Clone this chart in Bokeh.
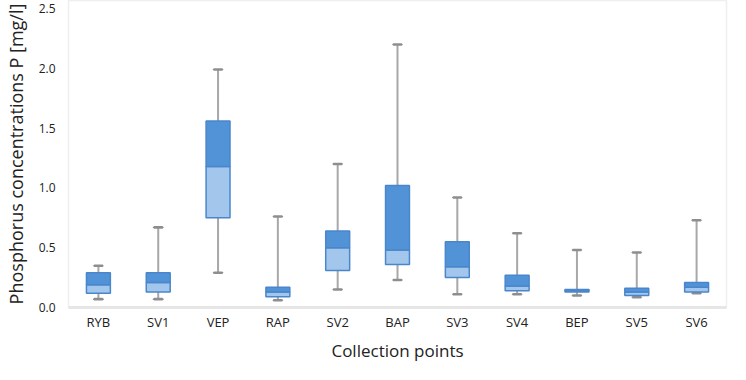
from bokeh.plotting import figure
from bokeh.models import ColumnDataSource, FixedTicker, NumeralTickFormatter
from bokeh.embed import file_html
from bokeh.resources import INLINE

points = ["RYB", "SV1", "VEP", "RAP", "SV2", "BAP", "SV3", "SV4", "BEP", "SV5", "SV6"]
minimum = [0.07, 0.07, 0.29, 0.06, 0.15, 0.23, 0.11, 0.11, 0.10, 0.085, 0.12]
q1 = [0.12, 0.13, 0.75, 0.09, 0.31, 0.36, 0.25, 0.14, 0.13, 0.10, 0.13]
median = [0.19, 0.21, 1.18, 0.13, 0.50, 0.48, 0.34, 0.18, 0.14, 0.13, 0.17]
q3 = [0.29, 0.29, 1.56, 0.17, 0.64, 1.02, 0.55, 0.27, 0.15, 0.16, 0.21]
maximum = [0.35, 0.67, 1.99, 0.76, 1.20, 2.20, 0.92, 0.62, 0.48, 0.46, 0.73]
y_ticks = [0.0, 0.5, 1.0, 1.5, 2.0, 2.5]

src = ColumnDataSource(dict(points=points, minimum=minimum, q1=q1, median=median,
                            q3=q3, maximum=maximum))

p = figure(width=730, height=364, x_range=points, y_range=(0, 2.567),
           output_backend="svg", toolbar_location=None,
           min_border_left=65, min_border_right=4, min_border_top=0, min_border_bottom=40)

p.segment(x0="points", y0="minimum", x1="points", y1="maximum", source=src,
          line_color="#a8a8a8", line_width=2)
p.rect(x="points", y="maximum", width=0.14, height=0.0001, height_units="data", source=src,
       line_color="#8e8e8e", line_width=2.5, fill_color=None)
p.rect(x="points", y="minimum", width=0.14, height=0.0001, height_units="data", source=src,
       line_color="#8e8e8e", line_width=2.5, fill_color=None)
p.vbar(x="points", bottom="q1", top="median", width=0.4, source=src,
       fill_color="#a3c7ec", line_color="#4a86cc", line_width=1.5)
p.vbar(x="points", bottom="median", top="q3", width=0.4, source=src,
       fill_color="#5193d6", line_color="#4a86cc", line_width=1.5)

p.xgrid.grid_line_color = None
p.ygrid.grid_line_color = None
p.outline_line_color = "#efefef"
p.outline_line_width = 1.5

p.yaxis.ticker = FixedTicker(ticks=y_ticks)
p.yaxis.formatter = NumeralTickFormatter(format="0.0")
p.yaxis.axis_line_color = None
p.yaxis.major_tick_line_color = None
p.yaxis.minor_tick_line_color = None
p.yaxis.major_tick_out = 0
p.yaxis.minor_tick_out = 0
p.yaxis.major_label_standoff = 13
p.yaxis.axis_label = "Phosphorus concentrations P [mg/l]"
p.yaxis.axis_label_standoff = 8

p.xaxis.axis_line_color = "#e6e6e6"
p.xaxis.axis_line_width = 3
p.xaxis.major_tick_line_color = None
p.xaxis.minor_tick_line_color = None
p.xaxis.major_tick_out = 0
p.xaxis.minor_tick_out = 0
p.xaxis.major_label_standoff = 5
p.xaxis.axis_label = "Collection points"
p.xaxis.axis_label_standoff = 5

for ax in (p.xaxis, p.yaxis):
    ax.major_label_text_font = "Open Sans"
    ax.major_label_text_color = "#222222"
    ax.axis_label_text_font = "Open Sans"
    ax.axis_label_text_font_style = "normal"
    ax.axis_label_text_color = "#222222"
p.xaxis.axis_label_text_font_size = "17px"
p.yaxis.axis_label_text_font_size = "18px"
p.xaxis.major_label_text_font_size = "13px"
p.yaxis.major_label_text_font_size = "12px"

open("out.html", "w").write(file_html(p, INLINE))
